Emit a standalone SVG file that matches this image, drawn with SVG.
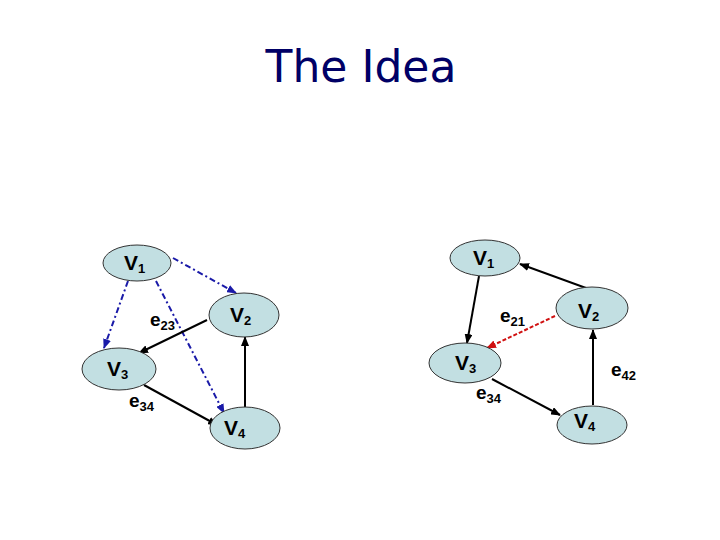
<svg xmlns="http://www.w3.org/2000/svg" width="720" height="540" viewBox="0 0 720 540">
<style>
.node{fill:#c2dfe2;stroke:#333;stroke-width:1}
.lbl{font-family:"Liberation Sans",Arial,sans-serif;font-weight:bold;font-size:21px;fill:#000}
.sub{font-size:13px;font-weight:bold}
.el{font-family:"Liberation Sans",Arial,sans-serif;font-weight:bold;font-size:19px;fill:#000}
.blk{stroke:#000;stroke-width:2;fill:none;marker-end:url(#ab)}
.blu{stroke:#1a1aa8;stroke-width:2;fill:none;stroke-dasharray:6,3,2,3;marker-end:url(#au)}
.red{stroke:#d01010;stroke-width:2;fill:none;stroke-dasharray:4,2;marker-end:url(#ar)}
</style>
<defs>
<marker id="ab" markerWidth="10" markerHeight="8" refX="9" refY="4" orient="auto" markerUnits="userSpaceOnUse"><path d="M0,0 L10,4 L0,8 z" fill="#000"/></marker>
<marker id="au" markerWidth="10" markerHeight="8" refX="9" refY="4" orient="auto" markerUnits="userSpaceOnUse"><path d="M0,0 L10,4 L0,8 z" fill="#1a1aa8"/></marker>
<marker id="ar" markerWidth="10" markerHeight="8" refX="9" refY="4" orient="auto" markerUnits="userSpaceOnUse"><path d="M0,0 L10,4 L0,8 z" fill="#d01010"/></marker>
</defs>
<rect width="720" height="540" fill="#fff"/>
<text x="361" y="82" text-anchor="middle" font-family="'DejaVu Sans',sans-serif" font-size="44" fill="#000066">The Idea</text>
<g id="connectors">
<line class="blu" x1="173" y1="258" x2="236" y2="293"/>
<line class="blu" x1="128" y1="281" x2="104" y2="348"/>
<line class="blu" x1="156" y1="281" x2="224" y2="413"/>
<line class="blk" x1="207" y1="320" x2="139" y2="353"/>
<line class="blk" x1="144" y1="385" x2="217" y2="425"/>
<line class="blk" x1="245" y1="408" x2="245" y2="337"/>
<line class="blk" x1="586" y1="288" x2="520" y2="264"/>
<line class="blk" x1="479" y1="276" x2="467" y2="343"/>
<line class="red" x1="555" y1="316" x2="487" y2="348"/>
<line class="blk" x1="492" y1="379" x2="560" y2="415"/>
<line class="blk" x1="593" y1="405" x2="593" y2="330"/>
</g>
<g id="L-V1"><ellipse class="node" cx="137" cy="263" rx="34" ry="18"/><text class="lbl" x="124" y="270">V<tspan class="sub" dy="3">1</tspan></text></g>
<g id="L-V2"><ellipse class="node" cx="244" cy="315" rx="35" ry="22"/><text class="lbl" x="230" y="322">V<tspan class="sub" dy="3">2</tspan></text></g>
<g id="L-V3"><ellipse class="node" cx="119" cy="369" rx="37" ry="21"/><text class="lbl" x="107" y="376">V<tspan class="sub" dy="3">3</tspan></text></g>
<g id="L-V4"><ellipse class="node" cx="245" cy="428" rx="35" ry="21"/><text class="lbl" x="224" y="435">V<tspan class="sub" dy="3">4</tspan></text></g>
<g id="L-e23"><text class="el" x="150" y="326">e<tspan class="sub" dy="4">23</tspan></text></g>
<g id="L-e34"><text class="el" x="129" y="407">e<tspan class="sub" dy="4">34</tspan></text></g>
<g id="R-V1"><ellipse class="node" cx="485" cy="258" rx="35" ry="18"/><text class="lbl" x="473" y="265">V<tspan class="sub" dy="3">1</tspan></text></g>
<g id="R-V2"><ellipse class="node" cx="592" cy="308" rx="36" ry="21"/><text class="lbl" x="578" y="318">V<tspan class="sub" dy="3">2</tspan></text></g>
<g id="R-V3"><ellipse class="node" cx="465" cy="363" rx="36" ry="20"/><text class="lbl" x="455" y="370">V<tspan class="sub" dy="3">3</tspan></text></g>
<g id="R-V4"><ellipse class="node" cx="592" cy="425" rx="35" ry="19"/><text class="lbl" x="574" y="428">V<tspan class="sub" dy="3">4</tspan></text></g>
<g id="R-e21"><text class="el" x="500" y="322">e<tspan class="sub" dy="4">21</tspan></text></g>
<g id="R-e42"><text class="el" x="611" y="376">e<tspan class="sub" dy="4">42</tspan></text></g>
<g id="R-e34"><text class="el" x="476" y="399">e<tspan class="sub" dy="4">34</tspan></text></g>
</svg>
